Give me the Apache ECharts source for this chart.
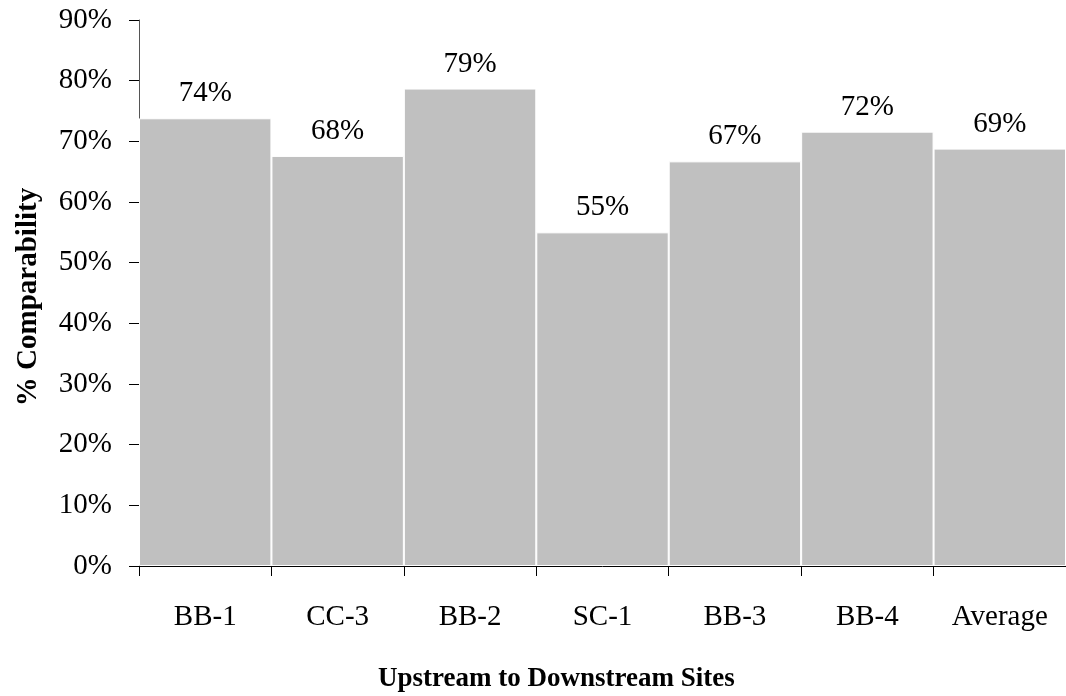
<!DOCTYPE html>
<html>
<head>
<meta charset="utf-8">
<script src="https://cdn.jsdelivr.net/npm/echarts@6/dist/echarts.min.js"></script>
<style>
  html, body { margin: 0; padding: 0; background: #fff; }
  #chart { width: 1066px; height: 696px; }
</style>
</head>
<body>
<div id="chart"></div>
<script>
  // sites, upstream to downstream
  const sites = ['BB-1', 'CC-3', 'BB-2', 'SC-1', 'BB-3', 'BB-4', 'Average']
  const comparability = [73.8, 67.6, 78.7, 55.0, 66.7, 71.6, 68.8]
  const yTicks = [0, 10, 20, 30, 40, 50, 60, 70, 80, 90]

  const font = '"Liberation Serif", "Times New Roman", serif'
  const chart = echarts.init(document.getElementById('chart'))

  let option = {
    animation: false,
    backgroundColor: '#fff',
    grid: {
      left: 139,
      right: -4,
      top: 20,
      bottom: 130
    },
    xAxis: {
      type: 'category',
      data: sites,
      axisLine: { lineStyle: { color: '#000', width: 1 } },
      axisTick: { show: true, length: 10, lineStyle: { color: '#000' } },
      axisLabel: { color: '#000', fontFamily: font, fontSize: 29, margin: 37 }
    },
    yAxis: {
      type: 'value',
      min: yTicks[0],
      max: yTicks[yTicks.length - 1],
      interval: 10,
      name: '% Comparability',
      nameLocation: 'middle',
      nameGap: 96,
      nameTextStyle: { color: '#000', fontFamily: font, fontSize: 29, fontWeight: 'bold', padding: [0, 8, 0, 0] },
      splitLine: { show: false },
      axisLine: { show: true, lineStyle: { color: '#555', width: 1 } },
      axisTick: { show: true, inside: false, length: 10, lineStyle: { color: '#000' } },
      axisLabel: {
        color: '#000', fontFamily: font, fontSize: 29, margin: 27,
        formatter: v => v + '%'
      }
    },
    graphic: [{
      type: 'text',
      left: 378,
      top: 666,
      style: {
        text: 'Upstream to Downstream Sites',
        fill: '#000',
        font: 'bold 27px ' + font
      }
    }],
    series: [{
      type: 'bar',
      data: comparability,
      barCategoryGap: 0,
      itemStyle: { color: '#c0c0c0', borderColor: '#fff', borderWidth: 1 },
      label: {
        show: true,
        position: 'top',
        distance: 10,
        color: '#000',
        fontFamily: font,
        fontSize: 29,
        formatter: p => Math.round(p.value) + '%'
      }
    }]
  }
  chart.setOption(option)
</script>
</body>
</html>
